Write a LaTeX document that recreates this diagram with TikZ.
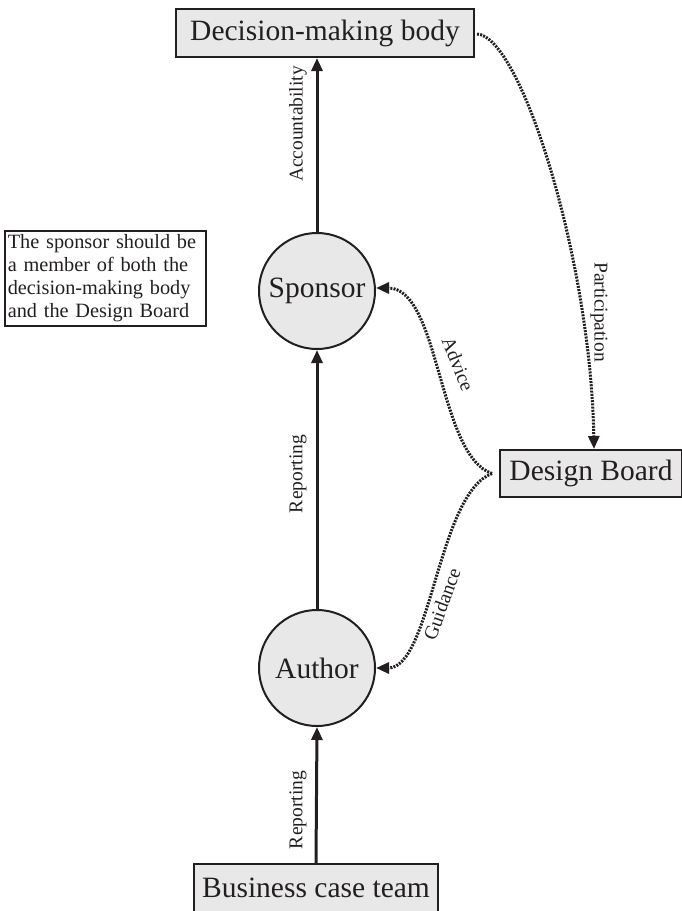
\documentclass[tikz,border=0pt]{standalone}
\usepackage{fontspec}
\setmainfont{Liberation Serif}
\usetikzlibrary{arrows.meta}

\definecolor{ink}{HTML}{231F20}
\definecolor{boxfill}{HTML}{E8E8E8}

\tikzset{
  unitbox/.style={draw=ink, line width=2pt, fill=boxfill, text=ink,
    inner sep=0pt, font=\fontsize{29.5}{30}\selectfont},
  role/.style={circle, draw=ink, line width=2pt, fill=boxfill, text=ink,
    minimum size=116pt, inner sep=0pt, font=\fontsize{29.5}{30}\selectfont},
  notebox/.style={draw=ink, line width=1.6pt, text=ink, align=left,
    text width=195pt, inner xsep=3pt, inner ysep=4pt,
    font=\fontsize{20.3}{23}\selectfont},
  flowlabel/.style={text=ink, inner sep=0pt, font=\fontsize{19.5}{20}\selectfont},
  solidlink/.style={draw=ink, line width=3pt,
    -{Triangle[length=13pt,width=11pt]}},
  dottedlink/.style={draw=ink, line width=3pt,
    dash pattern=on 2pt off 1.2pt,
    -{Triangle[length=13pt,width=11pt]}}
}

\begin{document}
\begin{tikzpicture}[x=1pt,y=1pt]
  \useasboundingbox (0,0) rectangle (682,-911);

  % boxes and roles
  \node[unitbox, minimum width=298pt, minimum height=48pt] (dmb) at (325,-33) {Decision-making body};
  \node[role] (sponsor) at (317,-291) {Sponsor};
  \node[role] (author) at (317,-668) {Author};
  \node[unitbox, minimum width=182pt, minimum height=47pt] (board) at (591,-473.5) {Design Board};
  \node[unitbox, minimum width=244pt, minimum height=48pt] (team) at (316,-888) {Business case team};

  \node[notebox, anchor=north west] (note) at (4,-230)
    {The sponsor should be\\a member of both the\\decision-making body\\and the Design Board};

  % reporting line
  \draw[solidlink] (team.north) -- (author.south);
  \draw[solidlink] (author.north) -- (sponsor.south);
  \draw[solidlink] (sponsor.north) -- (sponsor.north |- dmb.south);

  % participation and advice
  \draw[dottedlink] ([xshift=2pt,yshift=-1pt]dmb.east)
    .. controls +(44,-2) and +(-3,188) .. ([xshift=3pt]board.north);
  \coordinate (split) at ([xshift=-7pt]board.west);
  \draw[dottedlink] (split)
    .. controls +(-54,18) and +(64,0) .. ([yshift=3pt]sponsor.east);
  \draw[dottedlink] (split)
    .. controls +(-54,-20) and +(55,0) .. (author.east);

  % labels
  \node[flowlabel, rotate=90] (lacc) at (298,-124) {Accountability};
  \node[flowlabel, rotate=90] (lrep1) at (298,-474) {Reporting};
  \node[flowlabel, rotate=90] (lrep2) at (298,-810) {Reporting};
  \node[flowlabel, rotate=-90] (lpart) at (599,-312) {Participation};
  \node[flowlabel, rotate=-68] (ladv) at (458,-364) {Advice};
  \node[flowlabel, rotate=70] (lguid) at (442,-604) {Guidance};
\end{tikzpicture}
\end{document}
